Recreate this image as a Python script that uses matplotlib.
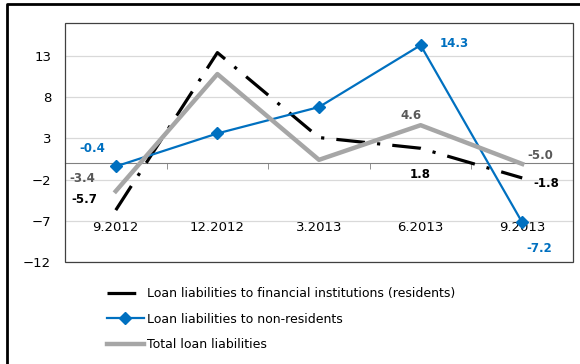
import matplotlib.pyplot as plt
from matplotlib.lines import Line2D
from matplotlib.patches import Rectangle

periods = ["9.2012", "12.2012", "3.2013", "6.2013", "9.2013"]
residents = [-5.7, 13.4, 3.1, 1.8, -1.8]
non_residents = [-0.4, 3.6, 6.8, 14.3, -7.2]
total = [-3.4, 10.8, 0.4, 4.6, -0.1]

# labelled points: index -> text
labels_res = {0: "-5.7", 3: "1.8", 4: "-1.8"}
labels_nonres = {0: "-0.4", 3: "14.3", 4: "-7.2"}
labels_total = {0: "-3.4", 3: "4.6", 4: "-5.0"}

black = "#000000"
blue = "#0070C0"
grey = "#A6A6A6"

plt.rcParams["font.family"] = ["DejaVu Sans"]

fig = plt.figure(figsize=(5.8, 3.64), dpi=100)
ax = fig.add_axes([0.112, 0.280, 0.876, 0.657])

x = list(range(len(periods)))
ax.plot(x, residents, color=black, lw=2.3, dash_capstyle="butt",
        linestyle=(0, (9, 3.8, 1, 3.8)),
        label="Loan liabilities to financial institutions (residents)", zorder=3)
ax.plot(x, non_residents, color=blue, lw=1.6, marker="D", markersize=6,
        label="Loan liabilities to non-residents", zorder=4)
ax.plot(x, total, color=grey, lw=3.2, label="Total loan liabilities", zorder=5)

ax.set_xlim(-0.5, 4.5)
ax.set_ylim(-12, 17)
ax.set_yticks(range(-12, 14, 5))
ax.grid(axis="y", color="#D9D9D9", lw=0.9)
ax.set_axisbelow(True)

# category axis crosses at zero, labels sit low in the plot
for s in ["top", "right", "left"]:
    ax.spines[s].set_visible(False)
ax.spines["bottom"].set_position(("data", 0))
ax.spines["bottom"].set_color("#808080")
ax.set_xticks(x)
ax.set_xticklabels(periods, fontsize=9.5)
ax.tick_params(axis="x", which="major", length=0, pad=42)
ax.set_xticks([0.5, 1.5, 2.5, 3.5], minor=True)
ax.tick_params(axis="x", which="minor", length=4, color="#808080", direction="out")
ax.tick_params(axis="y", length=0, labelsize=9.5, pad=10)
ax.add_patch(Rectangle((0, 0), 1, 1, transform=ax.transAxes, fill=False,
                       ec="#404040", lw=0.9, clip_on=False, zorder=6))

offsets_res = {0: (-23, 8), 3: (0, -19), 4: (17, -4)}
offsets_nonres = {0: (-17, 13), 3: (24, 1), 4: (12, -19)}
offsets_total = {0: (-24, 9), 3: (-7, 7), 4: (13, 6)}

for vals, labs, offs, col in [(residents, labels_res, offsets_res, black),
                              (non_residents, labels_nonres, offsets_nonres, blue),
                              (total, labels_total, offsets_total, "#595959")]:
    for i, txt in labs.items():
        ax.annotate(txt, (x[i], vals[i]), xytext=offs[i], textcoords="offset points",
                    ha="center", va="center", fontsize=8.5, fontweight="bold", color=col)

fig.legend(loc="upper left", bbox_to_anchor=(0.184, 0.2115), frameon=False,
           fontsize=9, handlelength=3.0, handletextpad=0.2, labelspacing=1.0,
           borderpad=0, borderaxespad=0)

# outer frame of the chart area
fig.add_artist(Line2D([7 / 580, 7 / 580, 1.0], [0.0, 1 - 4 / 364, 1 - 4 / 364],
                      transform=fig.transFigure, color="black", lw=2))

fig.savefig("out.png", dpi=100)
